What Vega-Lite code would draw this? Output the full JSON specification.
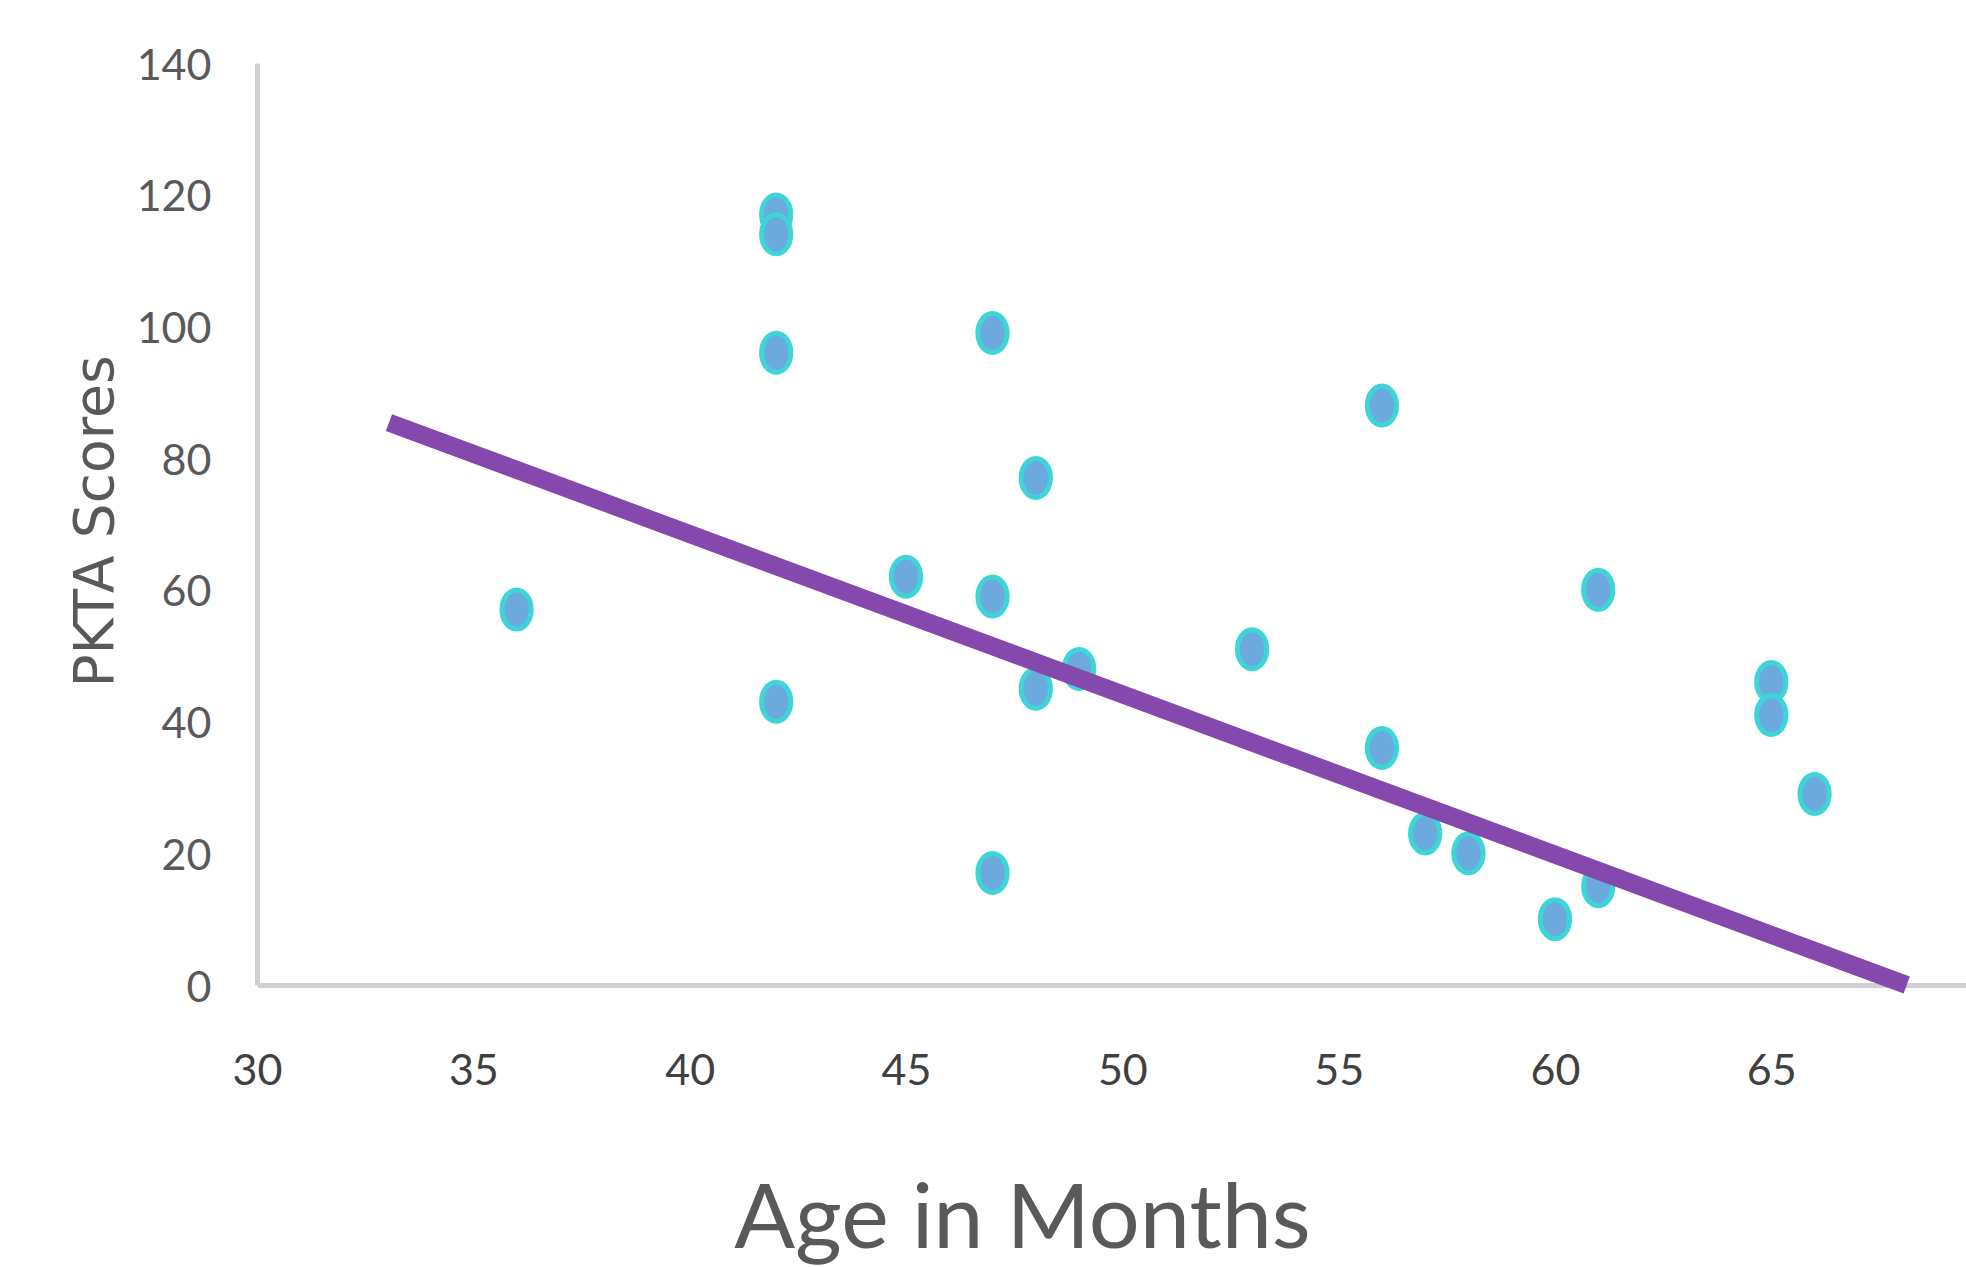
{
  "$schema": "https://vega.github.io/schema/vega-lite/v6.json",
  "autosize": {"type": "none"},
  "padding": {"left": 257, "top": 63, "right": 0, "bottom": 282},
  "width": 1709,
  "height": 922,
  "background": "white",
  "config": {"view": {"stroke": null}},
  "datasets": {
    "scores": [
      {"age": 36, "score": 57},
      {"age": 42, "score": 117},
      {"age": 42, "score": 114},
      {"age": 42, "score": 96},
      {"age": 42, "score": 43},
      {"age": 45, "score": 62},
      {"age": 47, "score": 99},
      {"age": 47, "score": 59},
      {"age": 47, "score": 17},
      {"age": 48, "score": 77},
      {"age": 48, "score": 45},
      {"age": 49, "score": 48},
      {"age": 53, "score": 51},
      {"age": 56, "score": 88},
      {"age": 56, "score": 36},
      {"age": 57, "score": 23},
      {"age": 58, "score": 20},
      {"age": 60, "score": 10},
      {"age": 61, "score": 15},
      {"age": 61, "score": 60},
      {"age": 65, "score": 46},
      {"age": 65, "score": 41},
      {"age": 66, "score": 29}
    ],
    "trend": [
      {"age": 33.05, "score": 85.4},
      {"age": 68.13, "score": 0}
    ]
  },
  "layer": [
    {
      "data": {"name": "scores"},
      "mark": {
        "type": "point",
        "filled": true,
        "shape": "M -0.75 0 A 0.75 1 0 1 1 0.75 0 A 0.75 1 0 1 1 -0.75 0 Z",
        "size": 1521,
        "fill": "#6ca9dc",
        "stroke": "#3dd5d8",
        "strokeWidth": 5,
        "opacity": 1,
        "fillOpacity": 1
      },
      "encoding": {
        "x": {
          "field": "age",
          "type": "quantitative",
          "scale": {"domain": [30, 69.5], "nice": false, "zero": false},
          "axis": {
            "values": [30, 35, 40, 45, 50, 55, 60, 65],
            "grid": false,
            "ticks": false,
            "labelFlush": false,
            "labelOverlap": false,
            "domainColor": "#d0d0d0",
            "domainWidth": 5,
            "labelFont": "Lato",
            "labelFontSize": 43,
            "labelColor": "#404040",
            "labelPadding": 86,
            "labelBaseline": "middle",
            "title": "Age in Months",
            "titleFont": "Lato",
            "titleFontSize": 90,
            "titleFontWeight": "normal",
            "titleColor": "#595959",
            "titleX": 765,
            "titleY": 262,
            "titleAlign": "center",
            "titleBaseline": "alphabetic"
          }
        },
        "y": {
          "field": "score",
          "type": "quantitative",
          "scale": {"domain": [0, 140], "nice": false},
          "axis": {
            "values": [0, 20, 40, 60, 80, 100, 120, 140],
            "grid": false,
            "ticks": false,
            "labelFlush": false,
            "labelOverlap": false,
            "domainColor": "#d0d0d0",
            "domainWidth": 5,
            "labelFont": "Lato",
            "labelFontSize": 43,
            "labelColor": "#595959",
            "labelPadding": 46,
            "labelBaseline": "middle",
            "labelOffset": 3,
            "title": "PKTA Scores",
            "titleFont": "DejaVu Sans",
            "titleFontSize": 55,
            "titleFontWeight": "normal",
            "titleColor": "#595959",
            "titleAngle": -90,
            "titleX": -145,
            "titleY": 458,
            "titleAlign": "center",
            "titleBaseline": "alphabetic"
          }
        }
      }
    },
    {
      "data": {"name": "trend"},
      "mark": {"type": "line", "color": "#8549ad", "strokeWidth": 18, "strokeCap": "butt"},
      "encoding": {
        "x": {"field": "age", "type": "quantitative"},
        "y": {"field": "score", "type": "quantitative"}
      }
    }
  ]
}
